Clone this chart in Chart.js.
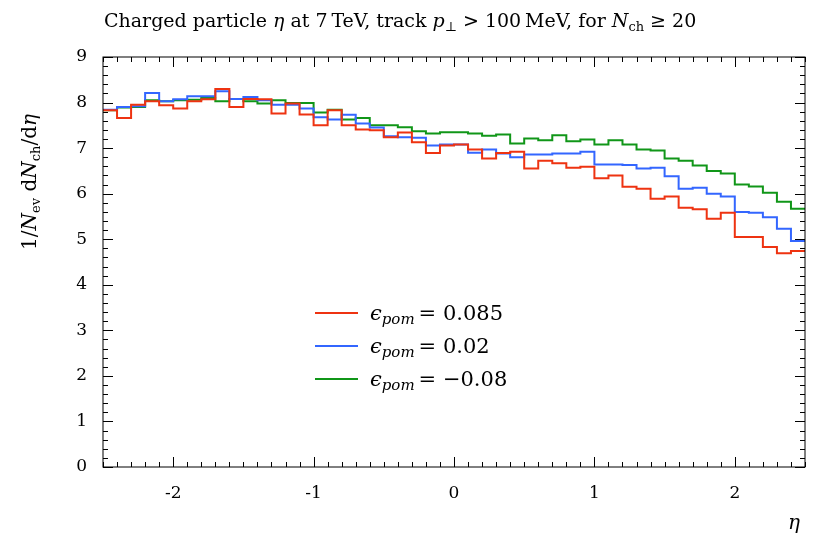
<!DOCTYPE html>
<html><head><meta charset="utf-8">
<script src="https://cdn.jsdelivr.net/npm/chart.js@4"></script>
<style>body{margin:0;background:#fff}#w{width:830px;height:540px}</style>
</head><body><div id="w"><canvas id="c"></canvas></div>
<script>
const binEdges = Array.from({length:51},(_,i)=>+(-2.5+0.1*i).toFixed(2));
const xTicks = [-2,-1,0,1,2];
const yTicks = [0,1,2,3,4,5,6,7,8,9];
const red = [7.83,7.66,7.95,8.03,7.94,7.87,8.03,8.07,8.30,7.90,8.08,8.07,7.76,7.98,7.74,7.50,7.83,7.50,7.41,7.39,7.24,7.34,7.13,6.89,7.06,
 7.08,6.97,6.77,6.89,6.92,6.55,6.72,6.67,6.57,6.59,6.34,6.40,6.15,6.11,5.89,5.94,5.69,5.66,5.45,5.58,5.05,5.05,4.83,4.69,4.74];
const blue = [7.84,7.90,7.92,8.21,8.03,8.07,8.14,8.14,8.25,8.08,8.12,8.05,7.95,7.95,7.87,7.68,7.63,7.73,7.54,7.45,7.26,7.24,7.23,7.06,7.08,
 7.08,6.90,6.97,6.88,6.80,6.86,6.86,6.88,6.88,6.92,6.64,6.64,6.63,6.55,6.57,6.38,6.11,6.13,6.00,5.94,5.60,5.58,5.48,5.23,4.96];
const green = [7.83,7.89,7.90,8.05,8.03,8.05,8.06,8.10,8.03,8.08,8.03,7.98,8.05,7.99,7.99,7.78,7.84,7.63,7.66,7.50,7.50,7.46,7.37,7.32,7.35,
 7.35,7.32,7.27,7.30,7.10,7.21,7.17,7.28,7.15,7.19,7.08,7.17,7.08,6.97,6.95,6.77,6.72,6.62,6.50,6.44,6.20,6.16,6.02,5.82,5.67];
const seriesLabels = ["0.085","0.02","\u22120.08"];
const colors = ["#ee3311","#3366ff","#109618"];
const F = '"DejaVu Serif", "Liberation Serif", serif';
function pts(v){const p=v.map((y,i)=>({x:binEdges[i],y}));p.push({x:binEdges[50],y:v[49]});return p;}
const deco = {id:'deco',
 afterDraw(ch){
  const c=ch.ctx,a=ch.chartArea,xs=ch.scales.x,ys=ch.scales.y;
  c.save();c.strokeStyle='#000';c.lineWidth=1;
  c.strokeRect(a.left,a.top,a.right-a.left,a.bottom-a.top);
  c.beginPath();
  for(let v=0;v<=9.001;v+=0.2){const y=Math.round(ys.getPixelForValue(v))+0.5;const L=Math.abs(v-Math.round(v))<1e-6?10:5;
    c.moveTo(a.left,y);c.lineTo(a.left+L,y);c.moveTo(a.right,y);c.lineTo(a.right-L,y);}
  for(let v=-2.5;v<=2.501;v+=0.1){const x=Math.round(xs.getPixelForValue(v))+0.5;const M=Math.abs(v-Math.round(v))<1e-6;const L=M?10:5;
    c.moveTo(x,a.bottom);c.lineTo(x,a.bottom-L);c.moveTo(x,a.top);c.lineTo(x,a.top+L);}
  c.stroke();
  c.fillStyle='#000';c.textBaseline='alphabetic';
  c.font='19px '+F;c.textAlign='left';
  let x=104;const ty=27;
  const seg=(t,f)=>{c.font=f;c.fillText(t,x,ty);x+=c.measureText(t).width;};
  seg('Charged particle ','19px '+F);seg('\u03b7','italic 19px '+F);seg(' at 7\u2009TeV, track ','19px '+F);
  seg('p','italic 19px '+F);c.font='13px '+F;c.fillText('\u22a5',x,ty+4);x+=c.measureText('\u22a5').width;
  seg(' > 100\u2009MeV, for ','19px '+F);seg('N','italic 19px '+F);c.font='13px '+F;c.fillText('ch',x,ty+4);x+=c.measureText('ch').width;
  seg(' \u2265 20','19px '+F);
  c.font='italic 20px '+F;c.textAlign='right';c.fillText('\u03b7',a.right-5,a.bottom+62);
  c.save();c.translate(30,a.top+(a.bottom-a.top)/2-40);c.rotate(-Math.PI/2);
  let s=0;const part=(t,f,dy)=>{c.font=f;c.fillText(t,s,dy);s+=c.measureText(t).width;};
  c.textAlign='left';
  const parts=[['1/','20px '+F,0],['N','italic 20px '+F,0],['ev','13px '+F,4],[' d','20px '+F,0],['N','italic 20px '+F,0],['ch','13px '+F,4],['/d','20px '+F,0],['\u03b7','italic 20px '+F,0]];
  let w=0;parts.forEach(p=>{c.font=p[1];w+=c.measureText(p[0]).width;});
  s=-w/2+40;parts.forEach(p=>part(p[0],p[1],p[2]+6));
  c.restore();
  const ly=[313,346,379];
  for(let i=0;i<3;i++){c.strokeStyle=colors[i];c.lineWidth=2;c.beginPath();c.moveTo(315,ly[i]);c.lineTo(358,ly[i]);c.stroke();
    let lx=370;c.textAlign='left';
    c.font='italic 21px '+F;c.fillText('\u03f5',lx,ly[i]+7);lx+=c.measureText('\u03f5').width;
    c.font='italic 15px '+F;c.fillText('pom',lx,ly[i]+11);lx+=c.measureText('pom').width+4;
    c.font='21px '+F;c.fillText('= '+seriesLabels[i],lx,ly[i]+7);}
  c.restore();
 }};
new Chart(document.getElementById('c'),{
 type:'line',
 data:{datasets:[red,blue,green].map((v,i)=>({data:pts(v),borderColor:colors[i],borderWidth:2,stepped:'before',pointRadius:0,fill:false}))},
 options:{responsive:true,maintainAspectRatio:false,animation:false,
  layout:{padding:{left:0,right:25,top:57,bottom:0}},
  plugins:{legend:{display:false},tooltip:{enabled:false}},
  scales:{
   x:{type:'linear',min:-2.5,max:2.5,grid:{display:false},border:{display:false},
     afterBuildTicks(s){s.ticks=xTicks.map(v=>({value:v}));},
     afterFit(s){s.height=73;},
     ticks:{color:'#000',font:{family:F,size:17},padding:8}},
   y:{min:0,max:9,grid:{display:false},border:{display:false},
     afterBuildTicks(s){s.ticks=yTicks.map(v=>({value:v}));},
     afterFit(s){s.width=103;},
     ticks:{color:'#000',font:{family:F,size:17},padding:8}}
  }},
 plugins:[deco]});
</script></body></html>
